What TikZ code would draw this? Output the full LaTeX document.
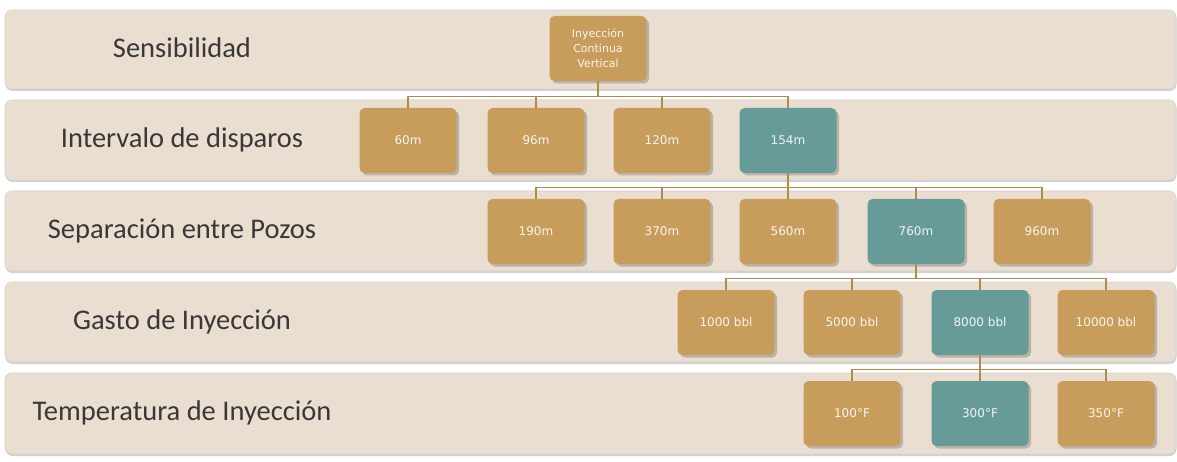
\documentclass[tikz,border=0pt]{standalone}
\usepackage{fontspec}
\setmainfont{Carlito}
\newfontfamily\boxfont{DejaVu Sans}
\usetikzlibrary{shadows}
\definecolor{bandfill}{HTML}{EADED0}
\definecolor{tan}{HTML}{C89D5C}
\definecolor{teal}{HTML}{679B98}
\definecolor{conncol}{HTML}{B08A48}
\definecolor{labelcol}{HTML}{383838}
\tikzset{
  band/.style={fill=bandfill, draw=gray!35, line width=0.6pt, rounded corners=7pt, drop shadow={shadow xshift=0.5pt, shadow yshift=-2pt, opacity=0.35, fill=gray}},
  rowlabel/.style={font=\fontsize{28.5}{32}\selectfont, text=labelcol, anchor=center},
  valbox/.style={fill=tan, rounded corners=5pt, minimum width=97pt, minimum height=65pt, inner sep=1pt, text=white!90!tan, font=\boxfont\fontsize{12}{14}\selectfont, align=center, drop shadow={shadow xshift=2.5pt, shadow yshift=-2.5pt, opacity=0.45}},
  selbox/.style={valbox, fill=teal, text=white!90!teal},
  conn/.style={draw=conncol, line width=1.3pt},
}
\begin{document}
\begin{tikzpicture}[x=1pt, y=-1pt]
\useasboundingbox (0,0) rectangle (1177,462);
\fill[white] (0,0) rectangle (1177,462);
% bands
\path[band] (5,10) rectangle (1176,89);
\path[band] (5,100) rectangle (1176,180);
\path[band] (5,191) rectangle (1176,271);
\path[band] (5,282) rectangle (1176,362);
\path[band] (5,373) rectangle (1176,454);
% labels
\node[rowlabel] (l1) at (182,48) {Sensibilidad};
\node[rowlabel] (l2) at (182,140) {Intervalo de disparos};
\node[rowlabel] (l3) at (182,231) {Separación entre Pozos};
\node[rowlabel] (l4) at (182,322) {Gasto de Inyección};
\node[rowlabel] (l5) at (182,413) {Temperatura de Inyección};
% boxes
\node[valbox, font=\boxfont\fontsize{11}{15}\selectfont] (root) at (598,48.5) {Inyección\\Continua\\Vertical};
\node[valbox] (a1) at (408,140.5) {60m};
\node[valbox] (a2) at (536,140.5) {96m};
\node[valbox] (a3) at (662,140.5) {120m};
\node[selbox] (a4) at (788,140.5) {154m};
\node[valbox] (b1) at (536,231.5) {190m};
\node[valbox] (b2) at (662,231.5) {370m};
\node[valbox] (b3) at (788,231.5) {560m};
\node[selbox] (b4) at (916,231.5) {760m};
\node[valbox] (b5) at (1042,231.5) {960m};
\node[valbox] (c1) at (726,322.5) {1000 bbl};
\node[valbox] (c2) at (852,322.5) {5000 bbl};
\node[selbox] (c3) at (980,322.5) {8000 bbl};
\node[valbox] (c4) at (1106,322.5) {10000 bbl};
\node[valbox] (d1) at (852,413.5) {100°F};
\node[selbox] (d2) at (980,413.5) {300°F};
\node[valbox] (d3) at (1106,413.5) {350°F};
% connectors
\foreach \c in {a1,a2,a3,a4} \draw[conn] (root.south) -- ++(0,15) -| (\c.north);
\foreach \c in {b1,b2,b3,b4,b5} \draw[conn] (a4.south) -- ++(0,14) -| (\c.north);
\foreach \c in {c1,c2,c3,c4} \draw[conn] (b4.south) -- ++(0,14) -| (\c.north);
\foreach \c in {d1,d2,d3} \draw[conn] (c3.south) -- ++(0,14) -| (\c.north);
\end{tikzpicture}
\end{document}
